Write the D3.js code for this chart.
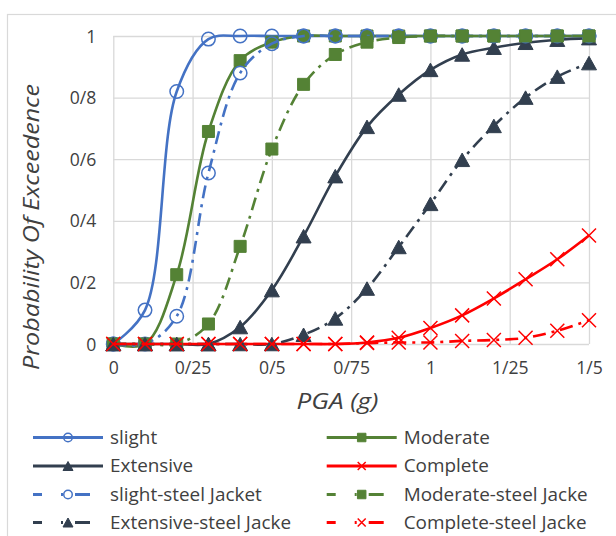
<!DOCTYPE html>
<html><head><meta charset="utf-8">
<script src="https://cdn.jsdelivr.net/npm/d3@7"></script>
<style>
body{margin:0;background:#fff;}
svg{display:block;font-family:'Open Sans',sans-serif;}
</style>
</head><body>
<svg id="chart" width="616" height="536"></svg>
<script>
// ---------- data ----------
const pga = [0,0.1,0.2,0.3,0.4,0.5,0.6,0.7,0.8,0.9,1.0,1.1,1.2,1.3,1.4,1.5];
const slight         = [0,0.11,0.82,0.99,1,1,1,1,1,1,1,1,1,1,1,1];
const moderate       = [0,0,0.225,0.69,0.92,0.98,1,1,1,1,1,1,1,1,1,1];
const extensive      = [0,0,0,0,0.055,0.175,0.35,0.545,0.705,0.81,0.89,0.94,0.962,0.978,0.988,0.993];
const complete       = [0,0,0,0,0,0,0,0,0.005,0.02,0.052,0.093,0.148,0.21,0.275,0.352];
const slightSteel    = [0,0,0.09,0.555,0.88,0.975,1,1,1,1,1,1,1,1,1,1];
const moderateSteel  = [0,0,0,0.065,0.317,0.633,0.843,0.94,0.98,0.995,1,1,1,1,1,1];
const extensiveSteel = [0,0,0,0,0,0,0.03,0.083,0.18,0.315,0.455,0.598,0.708,0.8,0.868,0.912];
const completeSteel  = [0,0,0,0,0,0,0,0,0.003,0.005,0.005,0.01,0.013,0.02,0.043,0.077];

const seriesNames = ["slight","Moderate","Extensive","Complete",
  "slight-steel Jacket","Moderate-steel Jacke","Extensive-steel Jacke","Complete-steel Jacke"];
const seriesValues = [slight, moderate, extensive, complete,
  slightSteel, moderateSteel, extensiveSteel, completeSteel];

const xTickValues = [0,0.25,0.5,0.75,1,1.25,1.5];
const xTickLabels = ["0","0/25","0/5","0/75","1","1/25","1/5"];
const yTickValues = [0,0.2,0.4,0.6,0.8,1];
const yTickLabels = ["0","0/2","0/4","0/6","0/8","1"];
const xTitle = "PGA (g)";
const yTitle = "Probability Of Exceedence";

// ---------- styles ----------
const colors = {slight:"#4472C4", moderate:"#548235", extensive:"#323F4F", complete:"#FF0000"};
const styles = [
  {color:colors.slight,    marker:"circle",   dash:null},
  {color:colors.moderate,  marker:"square",   dash:null},
  {color:colors.extensive, marker:"triangle", dash:null},
  {color:colors.complete,  marker:"x",        dash:null},
  {color:colors.slight,    marker:"circle",   dash:"13,6,3,6"},
  {color:colors.moderate,  marker:"square",   dash:"13,6,3,6"},
  {color:colors.extensive, marker:"triangle", dash:"13,6,3,6"},
  {color:colors.complete,  marker:"x",        dash:"13,6,3,6"}
];
const textColor = "#404040";
const gridColor = "#d9d9d9";

const svg = d3.select("#chart");
const W = 616, H = 536;
const plot = {left:113.3, right:589, top:36, bottom:344};

// outer chart border
svg.append("rect").attr("x",7.5).attr("y",14.5).attr("width",W).attr("height",H)
  .attr("fill","#fff").attr("stroke",gridColor).attr("stroke-width",1.2);

const x = d3.scaleLinear().domain([0,1.5]).range([plot.left, plot.right]);
const y = d3.scaleLinear().domain([0,1]).range([plot.bottom, plot.top]);

function measure(sample, fs, italic){
  const t = svg.append("text").attr("font-size",fs).text(sample);
  if(italic) t.style("font-style","italic");
  const w = t.node().getComputedTextLength();
  t.remove();
  return w;
}
const tickFs = 17*36.7/measure("0/25",17);
const legFs = 17.5;
const legK = 184/measure("Moderate-steel Jacke", legFs);

// grid via axes
const xAxis = d3.axisBottom(x).tickValues(xTickValues)
  .tickSize(-(plot.bottom-plot.top)).tickFormat((d,i)=>xTickLabels[i]);
const gx = svg.append("g").attr("transform",`translate(0,${plot.bottom})`).call(xAxis);
gx.select(".domain").remove();
gx.selectAll(".tick line").attr("stroke",gridColor).attr("stroke-width",1.3);
gx.selectAll(".tick text").attr("y",24).attr("dy","0.35em")
  .attr("font-size",tickFs).attr("fill",textColor).attr("font-family","'Open Sans',sans-serif");

const yAxis = d3.axisLeft(y).tickValues(yTickValues)
  .tickSize(-(plot.right-plot.left)).tickFormat((d,i)=>yTickLabels[i]);
const gy = svg.append("g").attr("transform",`translate(${plot.left},0)`).call(yAxis);
gy.select(".domain").remove();
gy.selectAll(".tick line").attr("stroke",gridColor).attr("stroke-width",1.3);
gy.selectAll(".tick text").attr("x",-17).attr("dy","0.35em")
  .attr("font-size",tickFs).attr("fill",textColor).attr("font-family","'Open Sans',sans-serif");

// titles
svg.append("text").attr("x",337.5).attr("y",401.7).attr("dy","0.35em")
  .attr("text-anchor","middle").attr("font-size",22).style("font-style","italic")
  .attr("textLength",82).attr("lengthAdjust","spacingAndGlyphs")
  .attr("fill",textColor).text(xTitle);
svg.append("text").attr("transform","translate(31,227) rotate(-90)").attr("dy","0.35em")
  .attr("text-anchor","middle").attr("font-size",22).style("font-style","italic")
  .attr("textLength",286).attr("lengthAdjust","spacingAndGlyphs")
  .attr("fill",textColor).text(yTitle);

// markers
function markerPath(type, s){
  if(type==="square") return `M${-s/2},${-s/2}h${s}v${s}h${-s}Z`;
  if(type==="triangle") return `M0,${-s*0.45}L${s/2},${s*0.45}L${-s/2},${s*0.45}Z`;
  if(type==="x") return `M${-s/2},${-s/2}L${s/2},${s/2}M${-s/2},${s/2}L${s/2},${-s/2}`;
  return null;
}
function drawMarker(g, type, color, cx, cy, s){
  if(type==="circle"){
    g.append("circle").attr("cx",cx).attr("cy",cy).attr("r",s/2)
      .attr("fill","none").attr("stroke",color).attr("stroke-width",1.5);
  } else if(type==="x"){
    g.append("path").attr("transform",`translate(${cx},${cy})`).attr("d",markerPath(type,s))
      .attr("fill","none").attr("stroke",color).attr("stroke-width",1.5);
  } else {
    g.append("path").attr("transform",`translate(${cx},${cy})`).attr("d",markerPath(type,s))
      .attr("fill",color).attr("stroke",color).attr("stroke-width",1);
  }
}
const markerSize = {circle:13.5, square:12, triangle:15, x:14};

const line = d3.line().x(d=>x(d[0])).y(d=>y(d[1])).curve(d3.curveCatmullRom.alpha(0.5));
const gSeries = svg.append("g");
seriesValues.forEach((vals,i)=>{
  const st = styles[i];
  const pts = pga.map((p,j)=>[p, vals[j]]);
  const g = gSeries.append("g");
  g.append("path").attr("d",line(pts)).attr("fill","none").attr("stroke",st.color)
    .attr("stroke-width",2.6).attr("stroke-dasharray",st.dash);
  pts.forEach(p=>drawMarker(g, st.marker, st.color, x(p[0]), y(p[1]), markerSize[st.marker]));
});

// legend
const legCols = [33, 326.7];
const legRows = [437.5, 466, 494.5, 522.5];
const legMarkerSize = {circle:8.5, square:8.5, triangle:10, x:8};
seriesNames.forEach((name,i)=>{
  const st = styles[i];
  const lx = legCols[i%2], ly = legRows[Math.floor(i/2)];
  const g = svg.append("g");
  g.append("line").attr("x1",lx).attr("x2",lx+70).attr("y1",ly).attr("y2",ly)
    .attr("stroke",st.color).attr("stroke-width",3)
    .attr("stroke-dasharray", st.dash ? "9,19,2,12,15,100" : null);
  drawMarker(g, st.marker, st.color, lx+35, ly, legMarkerSize[st.marker]);
  const w = measure(name, legFs);
  g.append("text").attr("x",lx+77).attr("y",ly).attr("dy","0.35em")
    .attr("font-size",legFs).attr("textLength",w*legK).attr("lengthAdjust","spacingAndGlyphs")
    .attr("fill",textColor).text(name);
});
</script>
</body></html>
